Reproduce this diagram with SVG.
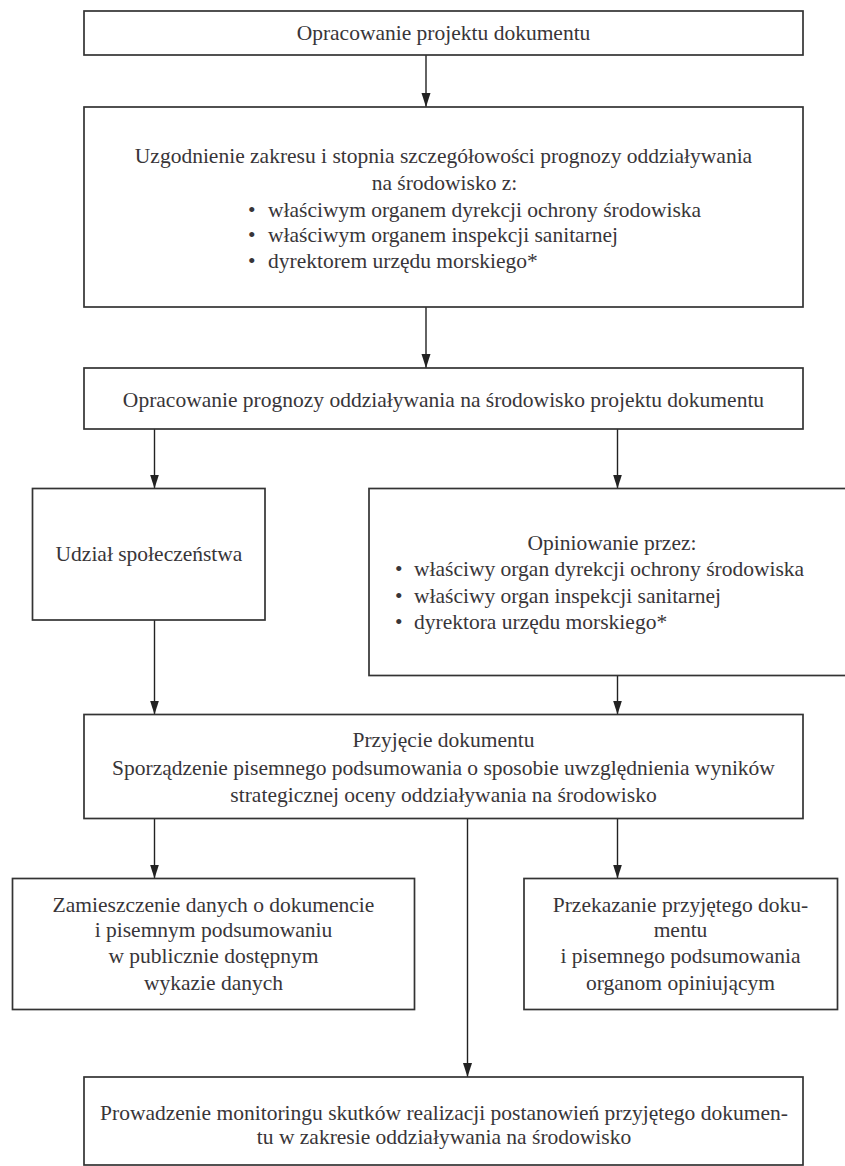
<svg xmlns="http://www.w3.org/2000/svg" width="845" height="1166" viewBox="0 0 845 1166">
<defs>
<marker id="arr" markerUnits="userSpaceOnUse" markerWidth="14" markerHeight="10" viewBox="0 0 14 10" refX="14" refY="5" orient="auto">
<path d="M0,0.5 L14,5 L0,9.5 Z" fill="#222"/>
</marker>
<style>
.box{fill:#fff;stroke:#333;stroke-width:1.7}
.t{font-family:"Liberation Serif","Times New Roman",serif;font-size:21.5px;fill:#383538}
.c{text-anchor:middle}
.ln{stroke:#222;stroke-width:1.4;fill:none;marker-end:url(#arr)}
</style>
</defs>
<rect width="845" height="1166" fill="#fff"/>
<g id="connectors">
<line class="ln" x1="426" y1="55" x2="426" y2="107"/>
<line class="ln" x1="426" y1="307" x2="426" y2="368"/>
<line class="ln" x1="154.5" y1="429" x2="154.5" y2="488.5"/>
<line class="ln" x1="617.5" y1="429" x2="617.5" y2="488.5"/>
<line class="ln" x1="154.5" y1="620" x2="154.5" y2="714.5"/>
<line class="ln" x1="617.5" y1="675.5" x2="617.5" y2="714.5"/>
<line class="ln" x1="154.5" y1="818.5" x2="154.5" y2="878.5"/>
<line class="ln" x1="617.5" y1="818.5" x2="617.5" y2="878.5"/>
<line class="ln" x1="467.5" y1="818.5" x2="467.5" y2="1077"/>
</g>
<g id="n1">
<rect class="box" x="84" y="11" width="719" height="44"/>
<text class="t c" x="443.5" y="40">Opracowanie projektu dokumentu</text>
</g>
<g id="n2">
<rect class="box" x="84" y="107" width="719" height="200"/>
<text class="t c" x="443.5" y="163">Uzgodnienie zakresu i stopnia szczegółowości prognozy oddziaływania</text>
<text class="t c" x="444.5" y="190">na środowisko z:</text>
<text class="t" y="216.5"><tspan x="248">•</tspan><tspan x="268">właściwym organem dyrekcji ochrony środowiska</tspan></text>
<text class="t" y="242"><tspan x="248">•</tspan><tspan x="268">właściwym organem inspekcji sanitarnej</tspan></text>
<text class="t" y="267.5"><tspan x="248">•</tspan><tspan x="268">dyrektorem urzędu morskiego*</tspan></text>
</g>
<g id="n3">
<rect class="box" x="84" y="368" width="719" height="61"/>
<text class="t c" x="443.5" y="406.5">Opracowanie prognozy oddziaływania na środowisko projektu dokumentu</text>
</g>
<g id="n4">
<rect class="box" x="32.5" y="488.5" width="232.5" height="131.5"/>
<text class="t c" x="149" y="561">Udział społeczeństwa</text>
</g>
<g id="n5">
<rect class="box" x="369" y="488.5" width="480" height="187"/>
<text class="t c" x="612" y="550">Opiniowanie przez:</text>
<text class="t" y="576"><tspan x="395">•</tspan><tspan x="414">właściwy organ dyrekcji ochrony środowiska</tspan></text>
<text class="t" y="602.5"><tspan x="395">•</tspan><tspan x="414">właściwy organ inspekcji sanitarnej</tspan></text>
<text class="t" y="629"><tspan x="395">•</tspan><tspan x="414">dyrektora urzędu morskiego*</tspan></text>
</g>
<g id="n6">
<rect class="box" x="84" y="714.5" width="719" height="104"/>
<text class="t c" x="443.5" y="747">Przyjęcie dokumentu</text>
<text class="t c" x="443.5" y="775">Sporządzenie pisemnego podsumowania o sposobie uwzględnienia wyników</text>
<text class="t c" x="443.5" y="802">strategicznej oceny oddziaływania na środowisko</text>
</g>
<g id="n7">
<rect class="box" x="12.5" y="878.5" width="402" height="131"/>
<text class="t c" x="213.5" y="912">Zamieszczenie danych o dokumencie</text>
<text class="t c" x="213.5" y="937">i pisemnym podsumowaniu</text>
<text class="t c" x="213.5" y="963">w publicznie dostępnym</text>
<text class="t c" x="213.5" y="990">wykazie danych</text>
</g>
<g id="n8">
<rect class="box" x="524" y="878.5" width="313.5" height="131"/>
<text class="t c" x="680.5" y="912">Przekazanie przyjętego doku-</text>
<text class="t c" x="680.5" y="937">mentu</text>
<text class="t c" x="680.5" y="963">i pisemnego podsumowania</text>
<text class="t c" x="680.5" y="990">organom opiniującym</text>
</g>
<g id="n9">
<rect class="box" x="84" y="1077" width="719" height="88"/>
<text class="t c" x="444" y="1120">Prowadzenie monitoringu skutków realizacji postanowień przyjętego dokumen-</text>
<text class="t c" x="444" y="1143.5">tu w zakresie oddziaływania na środowisko</text>
</g>
</svg>
